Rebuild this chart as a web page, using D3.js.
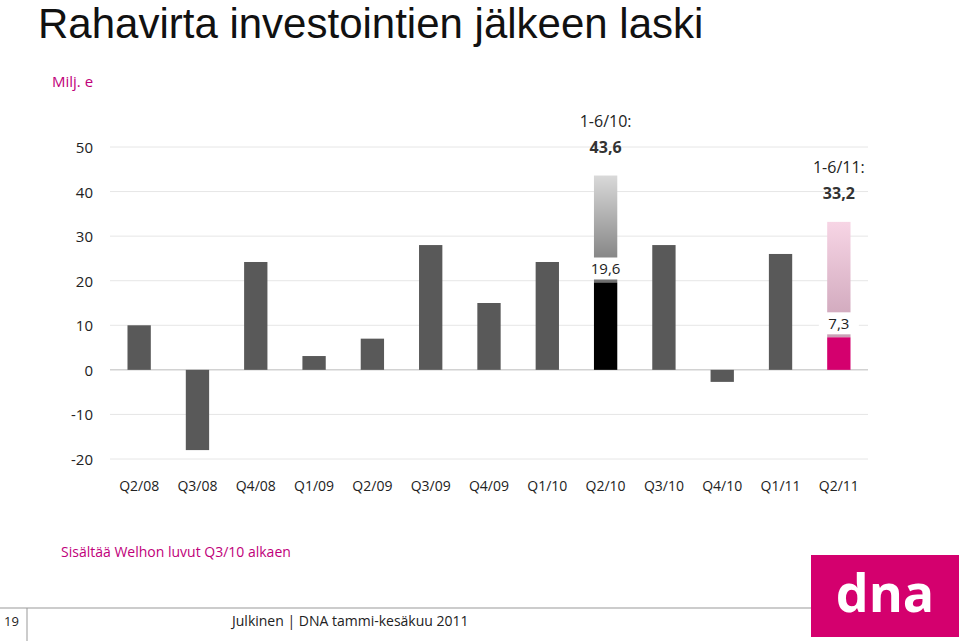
<!DOCTYPE html><html><head><meta charset="utf-8"><script src="https://cdn.jsdelivr.net/npm/d3@7"></script>
<style>body{margin:0;background:#fff}text{font-family:"Open Sans","Liberation Sans",sans-serif}</style></head><body><svg id="c" width="960" height="641"></svg>
<script>
const categories=["Q2/08","Q3/08","Q4/08","Q1/09","Q2/09","Q3/09","Q4/09","Q1/10","Q2/10","Q3/10","Q4/10","Q1/11","Q2/11"];
const values=[10,-18,24.2,3.1,7,28,15,24.2,19.6,28,-2.7,26,7.3];
const halfYear=[{cat:"Q2/10",from:19.6,to:43.6,label:"1-6/10:",val:"43,6",c1:"#d9d9d9",c2:"#6e6e6e"},{cat:"Q2/11",from:7.3,to:33.2,label:"1-6/11:",val:"33,2",c1:"#f7d5e5",c2:"#c9a0b5"}];
const yTicks=[-20,-10,0,10,20,30,40,50];
const svg=d3.select("#c");
const x=d3.scaleBand().domain(categories).range([110,868]).paddingInner(0.6).paddingOuter(0.3);
const y=d3.scaleLinear().domain([-20,50]).range([459,147]);
svg.append("text").attr("x",38).attr("y",38).attr("font-size",42).style("font-family","'Liberation Sans',sans-serif").attr("fill","#111").text("Rahavirta investointien jälkeen laski");
svg.append("text").attr("x",52).attr("y",87).attr("font-size",15).attr("fill","#c0007a").text("Milj. e");
svg.selectAll(".g").data(yTicks).join("line").attr("x1",110).attr("x2",868).attr("y1",d=>y(d)).attr("y2",d=>y(d)).attr("stroke",d=>d===0?"#bbb":"#e6e6e6");
svg.selectAll(".yt").data(yTicks).join("text").attr("x",93).attr("y",d=>y(d)+6).attr("text-anchor","end").attr("font-size",15).attr("fill","#222").text(d=>d);
svg.selectAll(".xt").data(categories).join("text").attr("x",d=>x(d)+x.bandwidth()/2).attr("y",491).attr("text-anchor","middle").attr("font-size",14).attr("fill","#222").text(d=>d);
const defs=svg.append("defs");
halfYear.forEach((h,i)=>{const g=defs.append("linearGradient").attr("id","g"+i).attr("x1",0).attr("x2",0).attr("y1",0).attr("y2",1);
g.append("stop").attr("offset","0%").attr("stop-color",h.c1);g.append("stop").attr("offset","100%").attr("stop-color",h.c2);
svg.append("rect").attr("x",x(h.cat)).attr("width",x.bandwidth()).attr("y",y(h.to)).attr("height",y(h.from)-y(h.to)).attr("fill",`url(#g${i})`);});
const col=c=>c==="Q2/10"?"#000":c==="Q2/11"?"#d4006e":"#595959";
svg.selectAll(".b").data(values).join("rect").attr("x",(d,i)=>x(categories[i])).attr("width",x.bandwidth())
 .attr("y",d=>y(Math.max(0,d))).attr("height",d=>Math.abs(y(d)-y(0))).attr("fill",(d,i)=>col(categories[i]));
[[8,"19,6"],[12,"7,3"]].forEach(([i,t])=>{const cx=x(categories[i])+x.bandwidth()/2,yy=y(values[i])-8;
 svg.append("rect").attr("x",cx-20).attr("y",yy-17).attr("width",40).attr("height",22).attr("fill","#fff");
 svg.append("text").attr("x",cx).attr("y",yy).attr("text-anchor","middle").attr("font-size",15).attr("fill","#222").text(t);});
halfYear.forEach(h=>{const cx=x(h.cat)+x.bandwidth()/2;const ty=y(h.to);
 svg.append("text").attr("x",cx).attr("y",ty-49).attr("text-anchor","middle").attr("font-size",16).attr("fill","#222").text(h.label);
 svg.append("text").attr("x",cx).attr("y",ty-23).attr("text-anchor","middle").attr("font-size",16).attr("font-weight","bold").attr("fill","#333").text(h.val);});
svg.append("text").attr("x",61).attr("y",557).attr("font-size",14).attr("fill","#c0007a").text("Sisältää Welhon luvut Q3/10 alkaen");
svg.append("rect").attr("x",811).attr("y",555).attr("width",148).attr("height",82).attr("fill","#d4006e");
svg.append("text").attr("x",885).attr("y",612).attr("text-anchor","middle").attr("font-size",52).attr("font-weight","bold").attr("fill","#fff").text("dna");
svg.append("line").attr("x1",0).attr("x2",811).attr("y1",608).attr("y2",608).attr("stroke","#999");
svg.append("line").attr("x1",27).attr("x2",27).attr("y1",608).attr("y2",641).attr("stroke","#999");
svg.append("text").attr("x",4).attr("y",626).attr("font-size",13).attr("fill","#222").text("19");
svg.append("text").attr("x",232).attr("y",626).attr("font-size",14).attr("fill","#222").text("Julkinen | DNA tammi-kesäkuu 2011");
</script></body></html>
